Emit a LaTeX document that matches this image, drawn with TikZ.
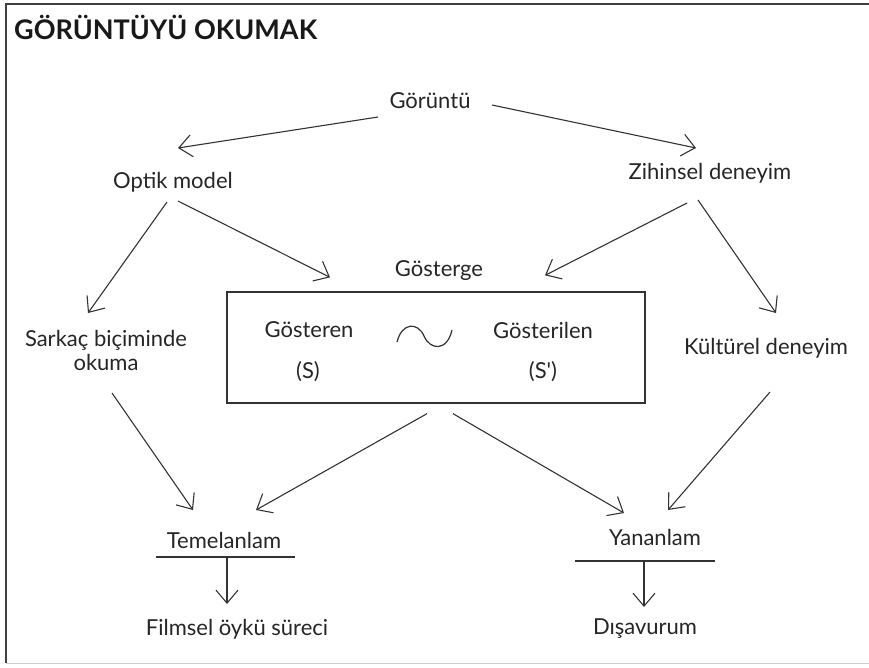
\documentclass[tikz,border=0pt]{standalone}
\usepackage{fontspec}
\setmainfont{Lato}
\usetikzlibrary{arrows.meta,calc}
\begin{document}
\begin{tikzpicture}[x=1pt,y=-1pt,
  lbl/.style={inner sep=0pt,text=black!85,font=\fontsize{22}{24}\selectfont},
  arr/.style={draw=black!80,line width=1.1pt,-{Straight Barb[length=13pt,width=22pt,line width=1.1pt]}},
  rule/.style={draw=black!80,line width=1.3pt}]
\useasboundingbox (0,0) rectangle (869,667);
\fill[white] (0,0) rectangle (869,667);
% frame
\draw[black!75,line width=2pt] (6,3) -- (6,663);
\draw[black!75,line width=2pt] (5,4) -- (869,4);
\draw[black!20,line width=1pt] (6,663) -- (869,663);
% title
\node[anchor=west,inner sep=0pt,font=\fontsize{27}{30}\bfseries\selectfont,text=black!90] (title) at (14,27) {GÖRÜNTÜYÜ OKUMAK};
% nodes
\node[lbl] (g) at (430,101) {Görüntü};
\node[lbl] (o) at (173,182) {Optik model};
\node[lbl] (z) at (710,173) {Zihinsel deneyim};
\node[lbl] (gs) at (439,271) {Gösterge};
\node[draw=black!80,line width=1.3pt,minimum width=418pt,minimum height=111pt,inner sep=0pt] (box) at (436,347.5) {};
\node[lbl] (gn) at (309,330) {Gösteren};
\node[lbl] (gns) at (308,372) {(S)};
\node[lbl] (gl) at (543,330) {Gösterilen};
\node[lbl] (gls) at (543,372) {(S\textquotesingle)};
\node[lbl,align=center] (sk) at (106,350) {Sarkaç biçiminde\\okuma};
\node[lbl] (k) at (766,348) {Kültürel deneyim};
\node[lbl] (t) at (224,540) {Temelanlam};
\node[lbl] (y) at (655,537) {Yananlam};
\node[lbl] (f) at (237,629) {Filmsel öykü süreci};
\node[lbl] (d) at (645,629) {Dışavurum};
% tilde
\draw[black!80,line width=1.2pt] (397,342) .. controls (402,322) and (418,322) .. (424,336) .. controls (430,350) and (447,352) .. (452,330);
% arrows
\draw[arr] ([xshift=-52pt,yshift=-16pt]g.center) -- ([xshift=5pt,yshift=34pt]o.center);
\draw[arr] ([xshift=62pt,yshift=-4pt]g.center) -- ([xshift=-14pt,yshift=25pt]z.center);
\draw[arr] ([xshift=-6pt,yshift=-20pt]o.center) -- ([xshift=-18pt,yshift=37pt]sk.center);
\draw[arr] ([xshift=5pt,yshift=-19pt]o.center) -- ([xshift=-106pt,yshift=14pt]box.north);
\draw[arr] ([xshift=-23pt,yshift=-30pt]z.center) -- ([xshift=109pt,yshift=16pt]box.north);
\draw[arr] ([xshift=-12pt,yshift=-27pt]z.center) -- ([xshift=10pt,yshift=35pt]k.center);
\draw[arr] ([xshift=6pt,yshift=-43pt]sk.center) -- ([xshift=-31pt,yshift=30pt]t.center);
\draw[arr] ([xshift=-9pt,yshift=-10pt]box.south) -- ([xshift=32pt,yshift=30pt]t.center);
\draw[arr] ([xshift=17pt,yshift=-10pt]box.south) -- ([xshift=-31pt,yshift=24pt]y.center);
\draw[arr] ([xshift=4pt,yshift=-44pt]k.center) -- ([xshift=13pt,yshift=27pt]y.center);
% rules and down arrows
\draw[rule] ([xshift=-68pt,yshift=-17pt]t.center) -- ([xshift=71pt,yshift=-17pt]t.center);
\draw[arr] ([xshift=3pt,yshift=-17pt]t.center) -- ([xshift=-10pt,yshift=25pt]f.center);
\draw[rule] ([xshift=-80pt,yshift=-24pt]y.center) -- ([xshift=60pt,yshift=-24pt]y.center);
\draw[arr] ([xshift=-11pt,yshift=-24pt]y.center) -- ([xshift=-1pt,yshift=22pt]d.center);
\end{tikzpicture}
\end{document}
